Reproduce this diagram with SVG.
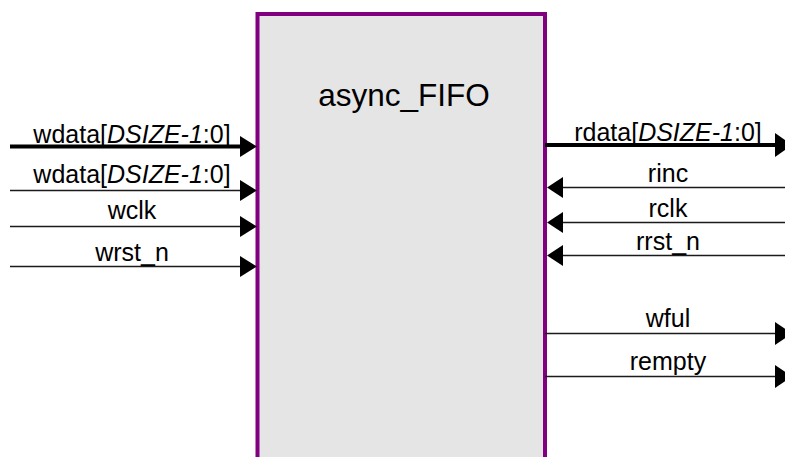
<svg xmlns="http://www.w3.org/2000/svg" width="785" height="457" viewBox="0 0 785 457">
<style>
text{font-family:"Liberation Sans",Arial,sans-serif;fill:#000}
.lbl{font-size:25px;text-anchor:middle}
.ttl{font-size:31.5px;text-anchor:middle}
.thin{stroke:#1a1a1a;stroke-width:1.5;fill:none}
.bus{stroke:#000;stroke-width:4;fill:none}
.ah{fill:#000;stroke:none}
</style>
<rect width="785" height="457" fill="#fff"/>
<g id="async_FIFO">
<rect x="257.5" y="14" width="287.5" height="460" fill="#e5e5e5" stroke="#800080" stroke-width="4"/>
<text class="ttl" x="404" y="106">async_FIFO</text>
</g>
<g id="connectors">
<line class="bus" x1="10" y1="146.5" x2="242" y2="146.5"/>
<polygon class="ah" points="240,136 257,146.5 240,157"/>
<line class="thin" x1="10" y1="190.5" x2="242" y2="190.5"/>
<polygon class="ah" points="240,180 257,190.5 240,201"/>
<line class="thin" x1="10" y1="226.5" x2="242" y2="226.5"/>
<polygon class="ah" points="240,216 257,226.5 240,237"/>
<line class="thin" x1="10" y1="266.5" x2="242" y2="266.5"/>
<polygon class="ah" points="240,256 257,266.5 240,277"/>
<line class="bus" x1="545" y1="145" x2="778" y2="145"/>
<polygon class="ah" points="775,133 792,145 775,157"/>
<line class="thin" x1="560" y1="187.5" x2="785" y2="187.5"/>
<polygon class="ah" points="563,177 547,187.5 563,198"/>
<line class="thin" x1="560" y1="222.5" x2="785" y2="222.5"/>
<polygon class="ah" points="563,212 547,222.5 563,233"/>
<line class="thin" x1="560" y1="255.5" x2="785" y2="255.5"/>
<polygon class="ah" points="563,245 547,255.5 563,266"/>
<line class="thin" x1="545" y1="333.5" x2="778" y2="333.5"/>
<polygon class="ah" points="775,322 792,333.5 775,345"/>
<line class="thin" x1="545" y1="376.5" x2="778" y2="376.5"/>
<polygon class="ah" points="775,365 792,376.5 775,388"/>
</g>
<g id="labels">
<text class="lbl" x="132" y="143">wdata[<tspan font-style="italic">DSIZE-1</tspan>:0]</text>
<text class="lbl" x="132" y="183">wdata[<tspan font-style="italic">DSIZE-1</tspan>:0]</text>
<text class="lbl" x="132" y="219">wclk</text>
<text class="lbl" x="132" y="260.5">wrst_n</text>
<text class="lbl" x="668" y="141">rdata[<tspan font-style="italic">DSIZE-1</tspan>:0]</text>
<text class="lbl" x="668" y="181.5">rinc</text>
<text class="lbl" x="668" y="217">rclk</text>
<text class="lbl" x="668" y="250">rrst_n</text>
<text class="lbl" x="668" y="327">wful</text>
<text class="lbl" x="668" y="370">rempty</text>
</g>
</svg>
